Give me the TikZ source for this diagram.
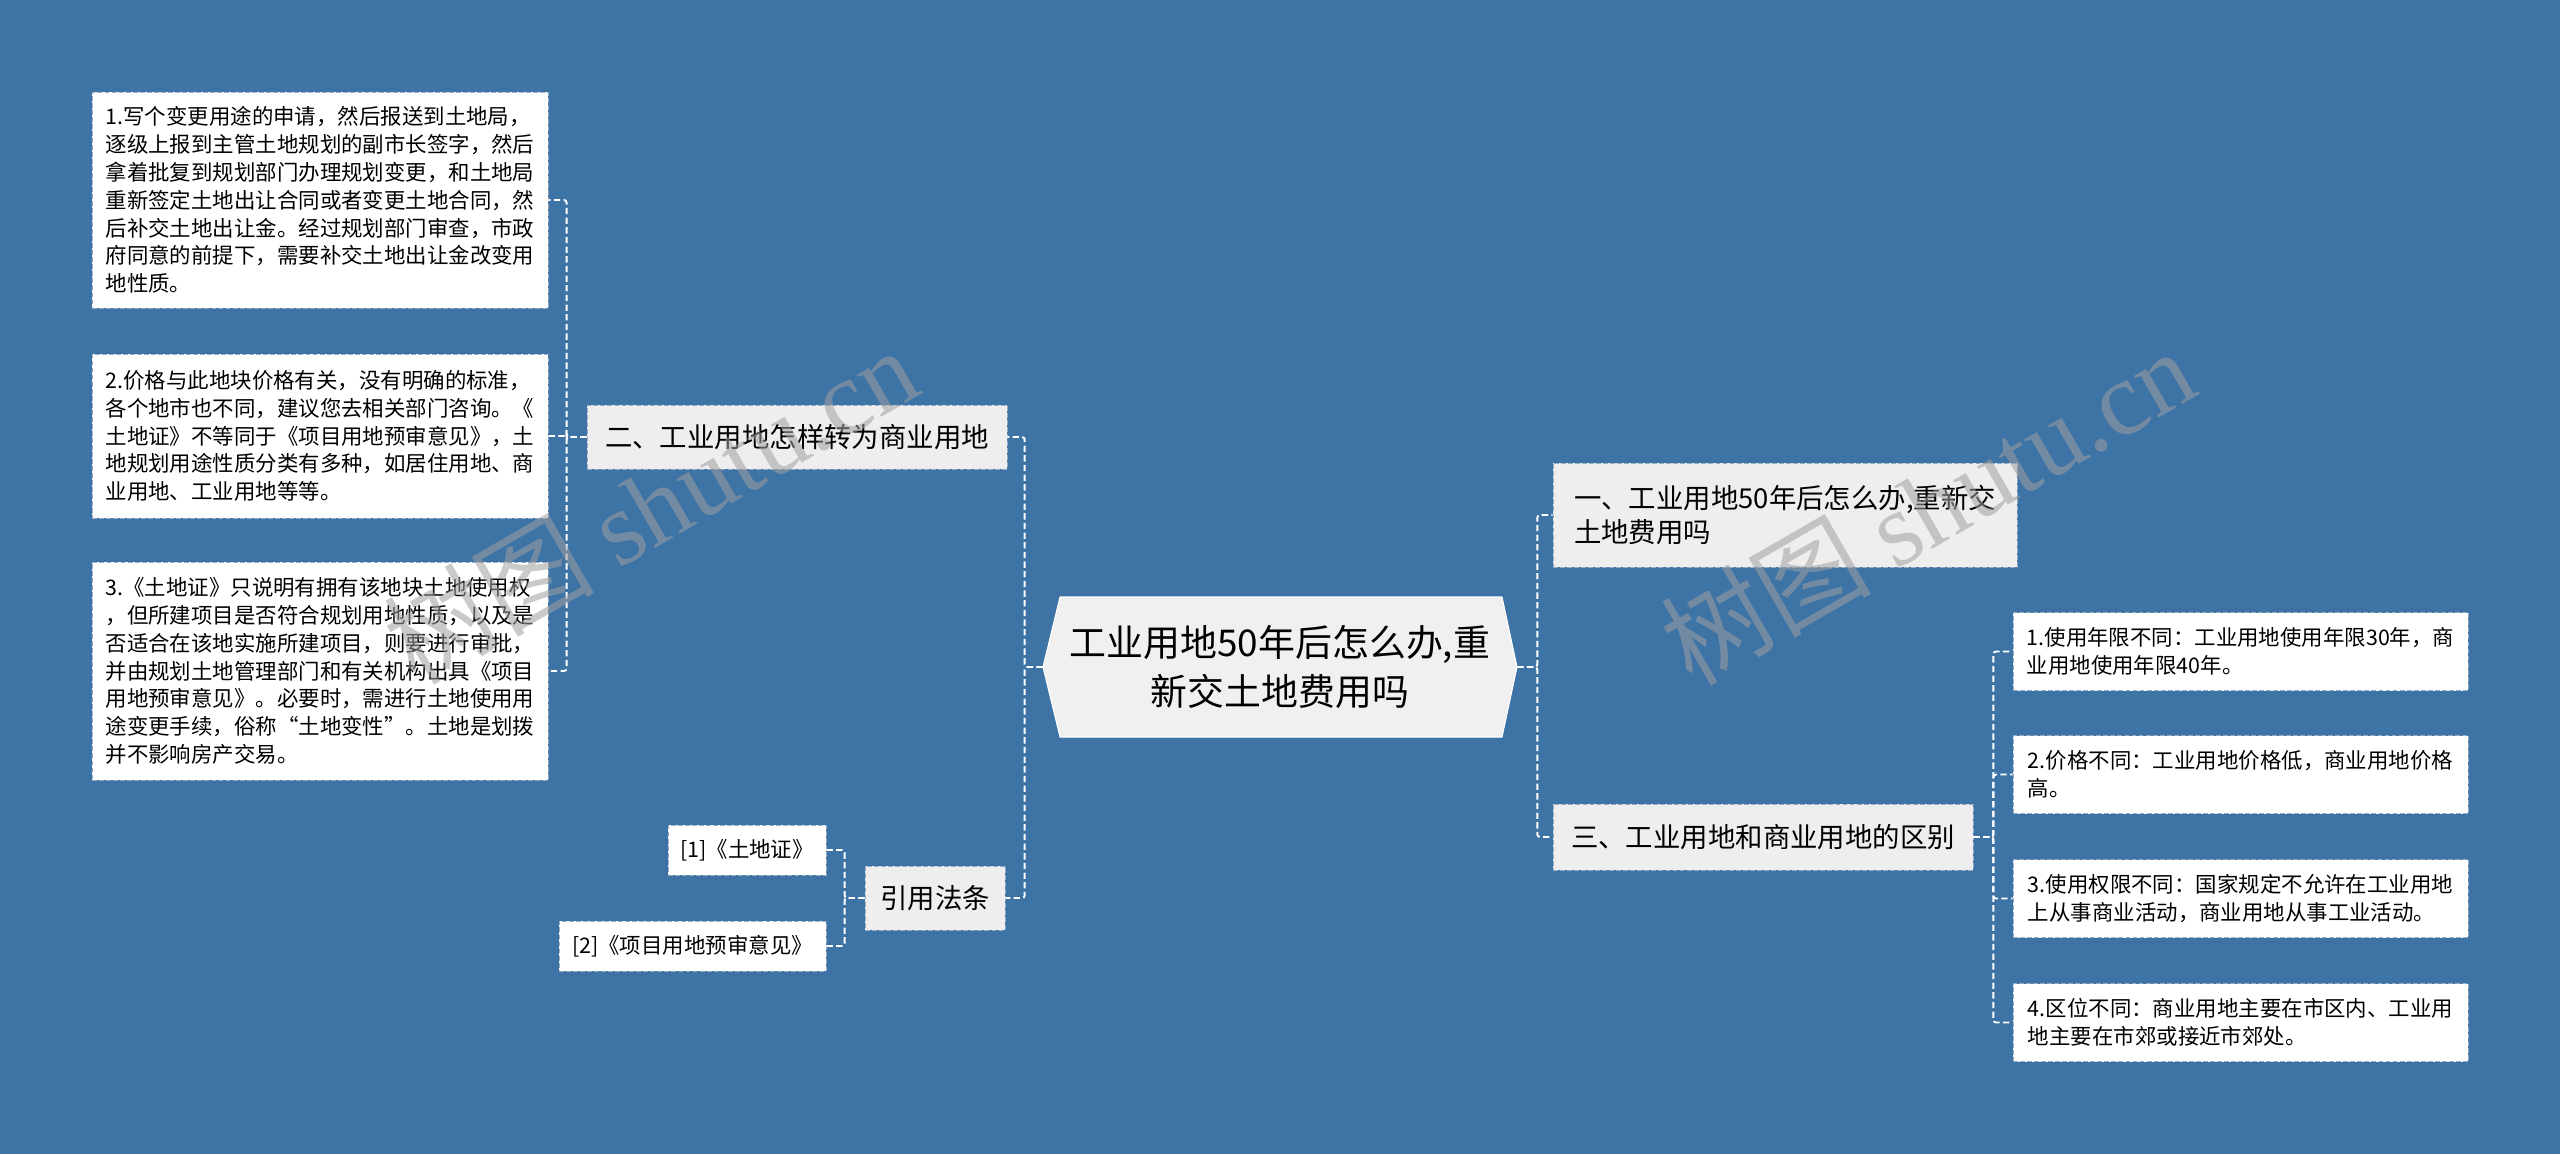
\documentclass[tikz,border=0pt]{standalone}
\usepackage{fontspec}
\newfontfamily\cjk{Noto Sans CJK SC}
\newfontfamily\wmserif{Liberation Serif}
\usetikzlibrary{calc}
\definecolor{bgblue}{RGB}{62,115,165}
\definecolor{boxline}{RGB}{150,172,196}
\definecolor{branchfill}{RGB}{238,238,238}
\definecolor{rootfill}{RGB}{240,240,240}
\definecolor{wmgray}{RGB}{160,160,160}

\begin{document}
\begin{tikzpicture}[x=0.02cm,y=-0.02cm,
  leaf/.style={draw=boxline,fill=white,line width=0.5pt,dash pattern=on 2.8pt off 1.2pt,
    align=left,inner sep=0pt,font=\cjk\fontsize{12.2}{15.8}\selectfont},
  branch/.style={draw=boxline,fill=branchfill,line width=0.5pt,dash pattern=on 2.8pt off 1.2pt,
    align=left,inner sep=0pt,font=\cjk\fontsize{15.6}{19.8}\selectfont},
  link/.style={draw=white,line width=1.1pt,dash pattern=on 3.6pt off 1.9pt,rounded corners=1.5pt},
  wm/.style={text=wmgray,text opacity=0.55,rotate=30,font=\cjk\fontsize{60}{60}\selectfont}]
  \fill[bgblue] (0,0) rectangle (2560,1154);
  \useasboundingbox (0,0) rectangle (2560,1154);

  % root
  \coordinate (rc) at (1280,667);
  \filldraw[fill=rootfill,draw=white,line width=0.6pt]
    ($(rc)+(-237,0)$) -- ($(rc)+(-220,-70)$) -- ($(rc)+(222,-70)$)
    -- ($(rc)+(237,0)$) -- ($(rc)+(222,70)$) -- ($(rc)+(-220,70)$) -- cycle;
  \node[minimum width=9.48cm,minimum height=2.8cm,inner sep=0pt,align=center,
    font=\cjk\fontsize{21}{28.3}\selectfont] (root) at (rc)
    {工业用地50年后怎么办,重\\新交土地费用吗};

  % left: branch two
  \node[branch,minimum width=8.4cm,minimum height=1.28cm] (n2) at (797,437)
    {二、工业用地怎样转为商业用地};
  \node[leaf,minimum width=9.12cm,minimum height=4.32cm] (l1) at (320,200)
    {1.写个变更用途的申请，然后报送到土地局，\\逐级上报到主管土地规划的副市长签字，然后\\拿着批复到规划部门办理规划变更，和土地局\\重新签定土地出让合同或者变更土地合同，然\\后补交土地出让金。经过规划部门审查，市政\\府同意的前提下，需要补交土地出让金改变用\\地性质。};
  \node[leaf,minimum width=9.12cm,minimum height=3.28cm] (l2) at (320,436)
    {2.价格与此地块价格有关，没有明确的标准，\\各个地市也不同，建议您去相关部门咨询。《\\土地证》不等同于《项目用地预审意见》，土\\地规划用途性质分类有多种，如居住用地、商\\业用地、工业用地等等。};
  \node[leaf,minimum width=9.12cm,minimum height=4.36cm] (l3) at (320,671)
    {3.《土地证》只说明有拥有该地块土地使用权\\，但所建项目是否符合规划用地性质，以及是\\否适合在该地实施所建项目，则要进行审批，\\并由规划土地管理部门和有关机构出具《项目\\用地预审意见》。必要时，需进行土地使用用\\途变更手续，俗称“土地变性”。土地是划拨\\并不影响房产交易。};

  % left: references
  \node[branch,minimum width=2.8cm,minimum height=1.28cm] (ref) at (935,898) {引用法条};
  \node[leaf,minimum width=3.16cm,minimum height=1cm] (r1) at (747,850) {[1]《土地证》};
  \node[leaf,minimum width=5.34cm,minimum height=1cm] (r2) at (692.5,946) {[2]《项目用地预审意见》};

  % right
  \node[branch,minimum width=9.28cm,minimum height=2.08cm] (n1) at (1785,515)
    {一、工业用地50年后怎么办,重新交\\土地费用吗};
  \node[branch,minimum width=8.4cm,minimum height=1.32cm] (n3) at (1763,837)
    {三、工业用地和商业用地的区别};
  \foreach \i/\yy/\txt in {
    1/651.5/{1.使用年限不同：工业用地使用年限30年，商\\业用地使用年限40年。},
    2/774.5/{2.价格不同：工业用地价格低，商业用地价格\\高。},
    3/898.5/{3.使用权限不同：国家规定不允许在工业用地\\上从事商业活动，商业用地从事工业活动。},
    4/1022.5/{4.区位不同：商业用地主要在市区内、工业用\\地主要在市郊或接近市郊处。}} {
    \node[leaf,minimum width=9.1cm,minimum height=1.56cm] (d\i) at (2240.5,\yy) {\txt};
  }

  % connectors
  \draw[link] (root.west) -- ++(-18,0) |- (n2.east);
  \draw[link] (root.west) -- ++(-18,0) |- (ref.east);
  \foreach \n in {l1,l2,l3}
    \draw[link] (n2.west) -- ++(-20,0) |- (\n.east);
  \foreach \n in {r1,r2}
    \draw[link] (ref.west) -- ++(-20,0) |- (\n.east);
  \draw[link] (root.east) -- ++(20,0) |- (n1.west);
  \draw[link] (root.east) -- ++(20,0) |- (n3.west);
  \foreach \i in {1,...,4}
    \draw[link] (n3.east) -- ++(20,0) |- (d\i.west);

  % watermarks
  \node[wm] (wmL) at (650,505) {树图 {\wmserif shutu.cn}};
  \node[wm] (wmR) at (1927,506) {树图 {\wmserif shutu.cn}};
\end{tikzpicture}
\end{document}
